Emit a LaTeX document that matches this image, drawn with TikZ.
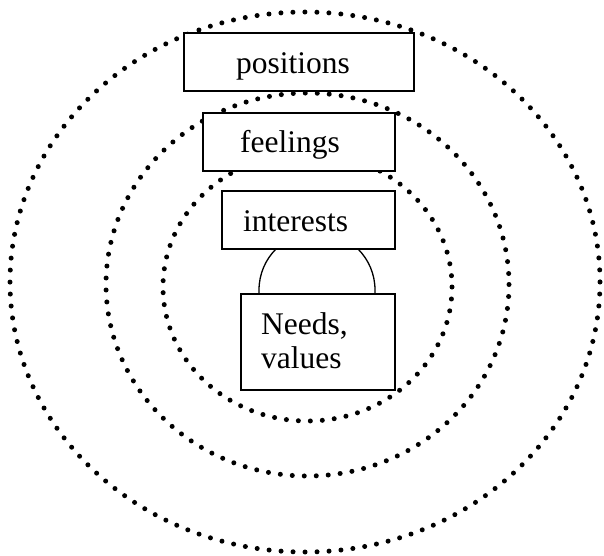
\documentclass[tikz,border=0pt]{standalone}
\usepackage{fontspec}
\setmainfont{Liberation Serif}
\begin{document}
\begin{tikzpicture}[x=1pt,y=-1pt,
  dotted ring/.style={line width=5pt, line cap=round, dash pattern=on 0pt off 12pt},
  labelbox/.style={draw, line width=1.5pt, fill=white},
  label/.style={anchor=base west, inner sep=0pt, font=\fontsize{31.5}{36}\selectfont}]
\useasboundingbox (0,0) rectangle (604,555);
% rings
\draw[dotted ring] (305,282) ellipse [x radius=295, y radius=270];
\draw[dotted ring] (307.5,284.5) ellipse [x radius=201.5, y radius=191.5];
\draw[dotted ring] (307.5,287) ellipse [x radius=144.5, y radius=134];
% arc between interests and needs
\coordinate (arcstart) at (259,293);
\draw[line width=1.3pt] (arcstart) -- (259,290) arc [start angle=180, end angle=0, x radius=58, y radius=-58] -- (375,293);
% boxes
\node[labelbox, minimum width=230pt, minimum height=58pt, anchor=north west] (pos) at (183,32) {};
\node[labelbox, minimum width=192pt, minimum height=58pt, anchor=north west] (feel) at (202,112) {};
\node[labelbox, minimum width=173pt, minimum height=58pt, anchor=north west] (int) at (221,190) {};
\node[labelbox, minimum width=154pt, minimum height=96pt, anchor=north west] (need) at (240,293) {};
% texts
\node[label] (tpos) at (236,73) {positions};
\node[label] (tfeel) at (240,152) {feelings};
\node[label] (tint) at (243,231) {interests};
\node[label] (tneed1) at (261,334) {Needs,};
\node[label] (tneed2) at (261,368) {values};
\end{tikzpicture}
\end{document}
